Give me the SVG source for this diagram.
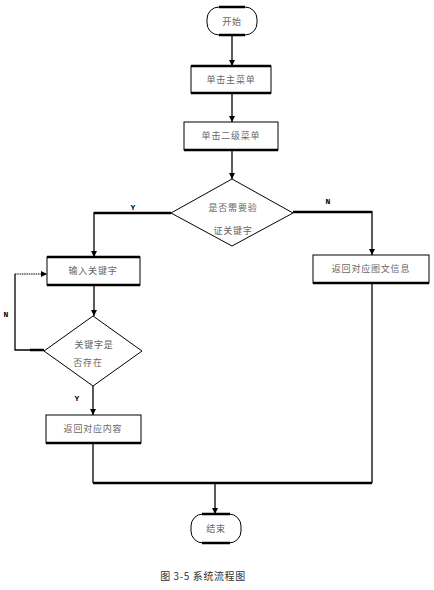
<svg xmlns="http://www.w3.org/2000/svg" width="434" height="590" viewBox="0 0 434 590">
<style>
.shape{fill:#fff;stroke:#000;stroke-width:1}
.edge{stroke:#000;stroke-width:2.5}
.t{font-family:"Noto Sans CJK SC","Noto Sans",sans-serif;font-size:9px;fill:#666;text-anchor:middle;letter-spacing:0.8px}
.lbl{font-family:"Liberation Mono",monospace;font-size:8px;font-weight:bold;fill:#000;text-anchor:middle}
.c{fill:none;stroke:#000;stroke-width:1.3}
.ct{fill:none;stroke:#000;stroke-width:2.5}
</style>
<defs>
<marker id="ah" viewBox="0 0 10 10" refX="10" refY="5" markerWidth="6" markerHeight="7" markerUnits="userSpaceOnUse" orient="auto">
<path d="M0,0 L10,5 L0,10 z" fill="#000"/>
</marker>
</defs>
<g id="connectors">
<line class="c" x1="232" y1="35" x2="232" y2="66" marker-end="url(#ah)"/>
<line class="c" x1="232" y1="93" x2="232" y2="122" marker-end="url(#ah)"/>
<line class="c" x1="232" y1="150" x2="232" y2="179" marker-end="url(#ah)"/>
<polyline class="ct" points="171,213 94,213"/>
<line class="c" x1="94" y1="212" x2="94" y2="257" marker-end="url(#ah)"/>
<polyline class="ct" points="293,212 372,212"/>
<line class="c" x1="372" y1="211" x2="372" y2="255" marker-end="url(#ah)"/>
<line class="c" x1="94" y1="285" x2="94" y2="316" marker-end="url(#ah)"/>
<polyline class="c" points="44,350 15,350 15,274"/>
<line class="ct" x1="30" y1="350" x2="44" y2="350"/>
<line x1="15" y1="274" x2="47" y2="274" stroke="#000" stroke-width="1.2" stroke-dasharray="1.5,0.8" marker-end="url(#ah)"/>
<line class="c" x1="93" y1="386" x2="93" y2="415" marker-end="url(#ah)"/>
<polyline class="c" points="93,443 93,483"/>
<polyline class="c" points="372,283 372,483"/>
<line class="ct" x1="93" y1="483" x2="372" y2="483"/>
<line class="c" x1="215" y1="483" x2="215" y2="514" marker-end="url(#ah)"/>
<text class="lbl" x="133" y="210">Y</text>
<text class="lbl" x="328" y="204">N</text>
<text class="lbl" x="6" y="317">N</text>
<text class="lbl" x="77" y="401">Y</text>
</g>
<g id="start">
<rect class="shape" x="207" y="7" width="50" height="28" rx="12" ry="12"/>
<line class="edge" x1="219" y1="7" x2="245" y2="7"/>
<line class="edge" x1="219" y1="35" x2="245" y2="35"/>
<text class="t" x="232" y="25">开始</text>
</g>
<g id="menu1">
<rect class="shape" x="191" y="66" width="80" height="27"/>
<line class="edge" x1="191" y1="66" x2="271" y2="66"/>
<line class="edge" x1="191" y1="93" x2="271" y2="93"/>
<text class="t" x="231" y="83">单击主菜单</text>
</g>
<g id="menu2">
<rect class="shape" x="184" y="122" width="94" height="28"/>
<line class="edge" x1="184" y1="150" x2="278" y2="150"/>
<text class="t" x="231" y="139">单击二级菜单</text>
</g>
<g id="verify">
<polygon class="shape" points="232,179 293,213 232,246 171,213"/>
<text class="t" x="233" y="211">是否需要验</text>
<text class="t" x="233" y="234">证关键字</text>
</g>
<g id="input">
<rect class="shape" x="47" y="257" width="93" height="28"/>
<line class="edge" x1="47" y1="257" x2="140" y2="257"/>
<line class="edge" x1="47" y1="285" x2="140" y2="285"/>
<text class="t" x="93" y="274">输入关键字</text>
</g>
<g id="return-info">
<rect class="shape" x="313" y="255" width="116" height="28"/>
<line class="edge" x1="313" y1="283" x2="429" y2="283"/>
<text class="t" x="371" y="272">返回对应图文信息</text>
</g>
<g id="exists">
<polygon class="shape" points="93,316 142,351 93,386 44,351"/>
<text class="t" x="94" y="348">关键字是</text>
<text class="t" x="88" y="366">否存在</text>
</g>
<g id="return-content">
<rect class="shape" x="46" y="415" width="95" height="28"/>
<line class="edge" x1="46" y1="443" x2="141" y2="443"/>
<text class="t" x="93" y="432">返回对应内容</text>
</g>
<g id="end">
<rect class="shape" x="191" y="514" width="50" height="29" rx="12" ry="12"/>
<line class="edge" x1="202" y1="514" x2="230" y2="514"/>
<line class="edge" x1="202" y1="543" x2="230" y2="543"/>
<text class="t" x="216" y="532">结束</text>
</g>
<text x="203" y="580" font-family="Noto Sans CJK SC, sans-serif" font-size="10" fill="#333" text-anchor="middle" letter-spacing="0.6" xml:space="preserve">图 3-5 系统流程图</text>
</svg>
